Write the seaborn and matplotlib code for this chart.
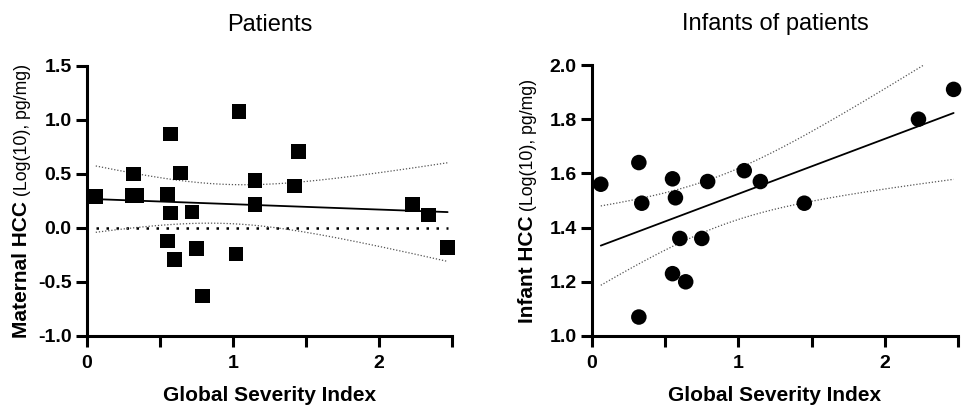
import numpy as np
import matplotlib
matplotlib.use("Agg")
import matplotlib.pyplot as plt
import seaborn as sns
from matplotlib.ticker import MultipleLocator, FormatStrFormatter

# Patients (maternal HCC vs GSI)
gsi_mat = [0.06, 0.32, 0.31, 0.34, 0.57, 0.64, 0.55, 0.57, 0.72, 0.55, 0.60,
           0.75, 0.79, 1.04, 1.02, 1.15, 1.15, 1.45, 1.42, 2.23, 2.34, 2.47]
hcc_mat = [0.29, 0.50, 0.30, 0.30, 0.87, 0.51, 0.31, 0.14, 0.15, -0.12, -0.29,
           -0.19, -0.63, 1.08, -0.24, 0.44, 0.22, 0.71, 0.39, 0.22, 0.12, -0.18]

# Infants of patients
gsi_inf = [0.06, 0.32, 0.34, 0.32, 0.55, 0.57, 0.60, 0.55, 0.64, 0.75, 0.79,
           1.04, 1.15, 1.45, 2.23, 2.47]
hcc_inf = [1.56, 1.64, 1.49, 1.07, 1.58, 1.51, 1.36, 1.23, 1.20, 1.36, 1.57,
           1.61, 1.57, 1.49, 1.80, 1.91]

W, H = 965, 408
sns.set_theme(style="ticks")
plt.rcParams['font.family'] = ['Liberation Sans', 'DejaVu Sans']
plt.rcParams['text.color'] = 'black'
plt.rcParams['axes.labelcolor'] = 'black'
plt.rcParams['xtick.color'] = 'black'
plt.rcParams['ytick.color'] = 'black'
plt.rcParams['axes.unicode_minus'] = False

fig = plt.figure(figsize=(W / 100, H / 100), dpi=100)
ax1 = fig.add_axes([87 / W, 1 - 336 / H, 365 / W, 270 / H])
ax2 = fig.add_axes([592 / W, 1 - 336 / H, 366 / W, 271 / H])

T_CRIT = {20: 2.086, 14: 2.145}


def fit_lines(ax, x, y):
    # linear fit + 95% confidence band (dotted)
    x = np.asarray(x)
    y = np.asarray(y)
    n = len(x)
    b, a = np.polyfit(x, y, 1)
    xs = np.linspace(x.min(), x.max(), 200)
    yhat = a + b * xs
    resid = y - (a + b * x)
    s = np.sqrt(np.sum(resid ** 2) / (n - 2))
    sxx = np.sum((x - x.mean()) ** 2)
    se = s * np.sqrt(1 / n + (xs - x.mean()) ** 2 / sxx)
    t = T_CRIT.get(n - 2, 2.1)
    ax.plot(xs, yhat, color='black', lw=1.3, zorder=2)
    for sign in (1, -1):
        ax.plot(xs, yhat + sign * t * se, color='#555555', lw=0.9,
                ls=(0, (1, 1.5)), zorder=2)


def style_axis(ax, ylim, ystep, title):
    ax.set_xlim(0, 2.5)
    ax.set_ylim(*ylim)
    ax.xaxis.set_major_locator(MultipleLocator(1))
    ax.xaxis.set_minor_locator(MultipleLocator(0.5))
    ax.yaxis.set_major_locator(MultipleLocator(ystep))
    ax.yaxis.set_major_formatter(FormatStrFormatter('%.1f'))
    ax.set_xlabel('Global Severity Index', fontsize=15, fontweight='bold',
                  labelpad=10)
    ax.set_ylabel('')
    ax.set_title(title, fontsize=17, pad=25)
    for side in ('top', 'right'):
        ax.spines[side].set_visible(False)
    for side in ('left', 'bottom'):
        ax.spines[side].set_linewidth(2.2)
        ax.spines[side].set_color('black')
    ax.tick_params(which='both', direction='out', length=8, width=2.2,
                   color='black', pad=3, labelsize=14)
    ax.tick_params(axis='x', which='both', pad=6)
    for lab in ax.get_xticklabels() + ax.get_yticklabels():
        lab.set_fontweight('bold')


# left panel
fit_lines(ax1, gsi_mat, hcc_mat)
ax1.hlines(0, min(gsi_mat), max(gsi_mat), color='black', lw=1.8,
           ls=(0, (1, 3)), zorder=1)
sns.scatterplot(x=gsi_mat, y=hcc_mat, ax=ax1, marker='s', s=110,
                color='black', edgecolor='none', zorder=3, clip_on=False)
style_axis(ax1, (-1.0, 1.5), 0.5, 'Patients')

# right panel
fit_lines(ax2, gsi_inf, hcc_inf)
sns.scatterplot(x=gsi_inf, y=hcc_inf, ax=ax2, marker='o', s=125,
                color='black', edgecolor='none', zorder=3, clip_on=False)
style_axis(ax2, (1.0, 2.0), 0.2, 'Infants of patients')


def two_part_ylabel(x_px, yc_px, bold, rest):
    kw = dict(rotation=90, rotation_mode='anchor', ha='left', va='baseline')
    t1 = fig.text(x_px / W, 0, bold, fontsize=15, fontweight='bold', **kw)
    t2 = fig.text(x_px / W, 0, rest, fontsize=12.7, **kw)
    r = fig.canvas.get_renderer()
    h1 = t1.get_window_extent(r).height
    h2 = t2.get_window_extent(r).height
    y0 = (H - yc_px) - (h1 + h2) / 2
    t1.set_y(y0 / H)
    t2.set_y((y0 + h1) / H)


fig.canvas.draw()
two_part_ylabel(27, 201, 'Maternal HCC', ' (Log(10), pg/mg)')
two_part_ylabel(533, 201, 'Infant HCC', ' (Log(10), pg/mg)')

fig.savefig('out.png', dpi=100, facecolor='white')
